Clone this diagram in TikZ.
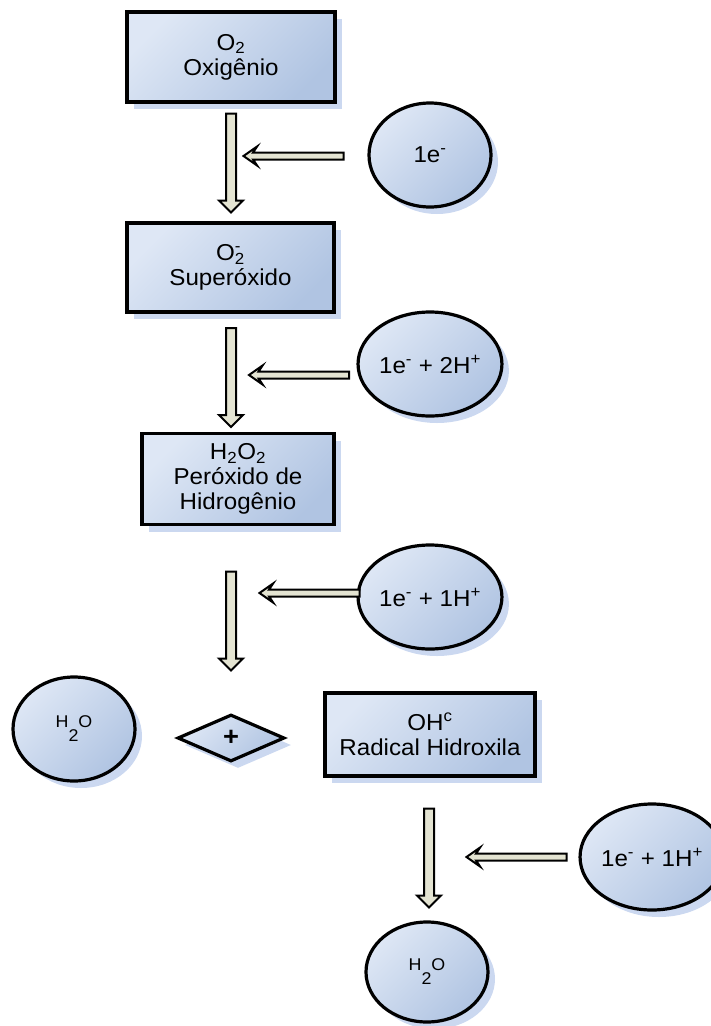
\documentclass[tikz,border=0pt]{standalone}
\usepackage{fontspec}
\setmainfont{Liberation Sans}[FakeStretch=1.05]
\usetikzlibrary{shapes.geometric,shapes.arrows,shadows}
\definecolor{boxlight}{RGB}{222,231,245}
\definecolor{boxdark}{RGB}{176,196,226}
\definecolor{shadowblue}{RGB}{168,190,230}
\definecolor{arrowfill}{RGB}{228,228,210}
\tikzset{
	species/.style={
			draw=black, line width=3.6pt,
			left color=boxlight, right color=boxdark, shading angle=45,
			drop shadow={shadow xshift=7pt, shadow yshift=-7pt, fill=shadowblue, opacity=0.6},
			align=center, inner sep=0pt,
			font=\fontsize{23}{25}\selectfont
		},
	reagent/.style={species, ellipse, line width=3.2pt, minimum width=122pt, minimum height=104pt},
	downarrow/.style={
			single arrow, draw=black, line width=2pt, fill=arrowfill,
			rotate=-90, minimum height=99pt, minimum width=22pt,
			inner sep=4pt, single arrow head extend=7pt
		},
	leftarrow/.style={
			single arrow, draw=black, line width=2pt, fill=arrowfill,
			rotate=180, minimum height=100pt, minimum width=17pt,
			inner sep=2.5pt, single arrow head extend=6pt,
			single arrow tip angle=70, single arrow head indent=4pt
		}
}

\begin{document}
\begin{tikzpicture}[x=1pt, y=-1pt]
	\useasboundingbox (0,0) rectangle (711,1026);
	% species boxes
	\node [species, minimum width=208pt, minimum height=90pt] (oxig) at (231,57)
		{O\textsubscript{2}\\Oxigênio};
	\node [species, minimum width=207pt, minimum height=89pt] (super) at (230.5,267.5)
		{O\rlap{\textsuperscript{-}}\textsubscript{2}\\Superóxido};
	\node [species, minimum width=192pt, minimum height=91pt] (perox) at (238,479)
		{H\textsubscript{2}O\textsubscript{2}\\Peróxido de\\Hidrogênio};
	\node [species, minimum width=210pt, minimum height=83pt] (hidrox) at (430,734.5)
		{OH\textsuperscript{c}\\Radical Hidroxila};
	% electrons and protons
	\node [reagent] (e1) at (430,155) {1e\textsuperscript{-}};
	\node [reagent] (e2) at (430,364) {1e\textsuperscript{-} + 2H\textsuperscript{+}};
	\node [reagent] (e3) at (430,597) {1e\textsuperscript{-} + 1H\textsuperscript{+}};
	\node [reagent, minimum width=110pt, minimum height=106pt] (e4) at (652,857)
		{1e\textsuperscript{-} + 1H\textsuperscript{+}};
	% water
	\node [reagent] (agua1) at (74,729)
		{\fontsize{17}{19}\selectfont H\raisebox{-14pt}{2}O};
	\node [reagent, minimum height=100pt] (agua2) at (427,972)
		{\fontsize{17}{19}\selectfont H\raisebox{-14pt}{2}O};
	\node [species, diamond, aspect=2.3, line width=3.2pt, minimum width=107pt, minimum height=47pt,
		font=\fontsize{26}{26}\bfseries] (mais) at (231,738) {+};
	% reaction arrows
	\node [downarrow] (v1) at (231,160.5) {};
	\node [downarrow] (v2) at (231,375) {};
	\node [downarrow] (v3) at (231,618.5) {};
	\node [downarrow] (v4) at (429,855.5) {};
	\node [leftarrow] (h1) at (296,156) {};
	\node [leftarrow] (h2) at (301.5,375) {};
	\node [leftarrow] (h3) at (312,593) {};
	\node [leftarrow] (h4) at (519,857) {};
\end{tikzpicture}
\end{document}
